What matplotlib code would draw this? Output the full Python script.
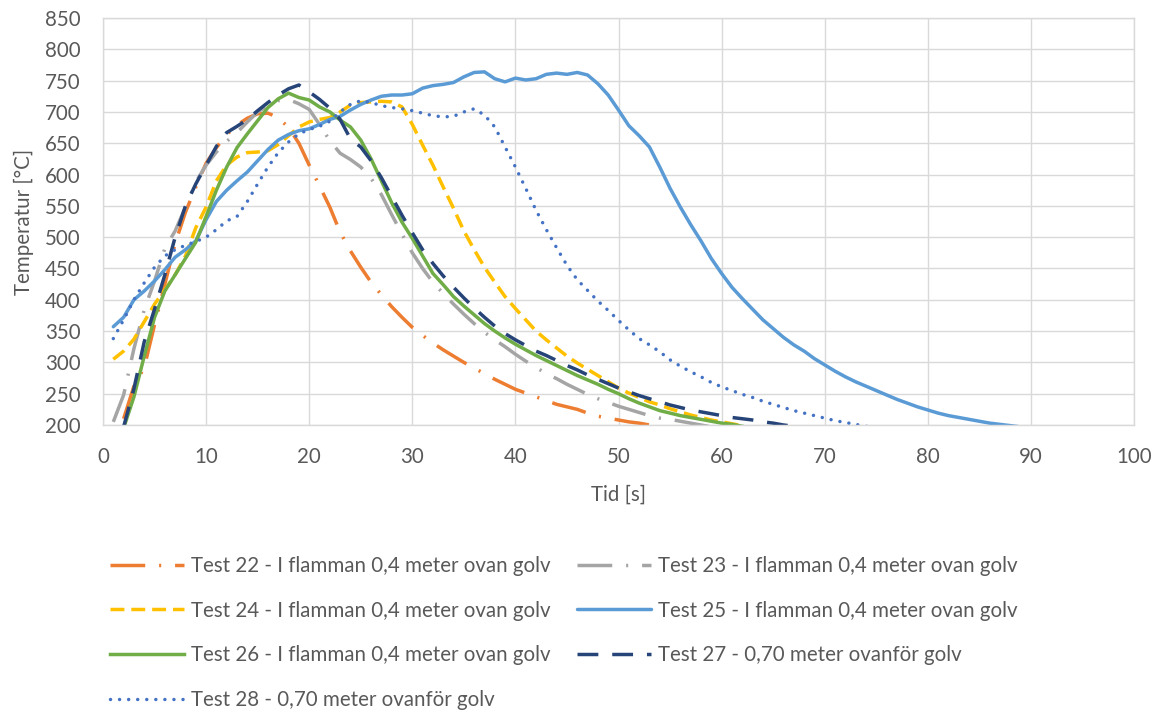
import matplotlib
matplotlib.use("Agg")
import matplotlib.pyplot as plt

plt.rcParams['font.family'] = ['Lato', 'DejaVu Sans']

# Tid [s]
x22 = list(range(2, 56))
t22 = [210, 262, 292, 360, 425, 490, 540, 580, 618, 643, 664, 679, 690, 697, 698, 691, 675, 650,
       615, 582, 548, 508, 478, 452, 428, 408, 389, 372, 356, 343, 331, 320, 310, 300, 291, 282,
       273, 265, 257, 251, 245, 239, 233, 229, 225, 219, 214, 211, 208, 205, 203, 200, 198, 195]

x23 = list(range(1, 60))
t23 = [205, 248, 322, 384, 430, 482, 510, 548, 588, 615, 636, 653, 667, 684, 700, 710, 718, 720,
       713, 704, 680, 654, 634, 624, 612, 594, 568, 536, 505, 475, 450, 428, 410, 393, 377, 362,
       348, 336, 325, 313, 302, 292, 282, 274, 265, 257, 249, 242, 236, 230, 225, 220, 215, 211,
       209, 206, 203, 200, 197]

x24 = list(range(1, 63))
t24 = [305, 318, 337, 365, 393, 416, 440, 470, 515, 548, 590, 615, 628, 635, 636, 638, 648, 662,
       676, 684, 688, 691, 700, 711, 715, 716, 717, 716, 708, 680, 647, 615, 580, 546, 510, 480,
       452, 428, 405, 386, 368, 350, 336, 323, 310, 299, 289, 279, 269, 259, 251, 244, 237, 232,
       226, 221, 216, 212, 208, 205, 202, 199]

x25 = list(range(1, 90))
t25 = [357, 372, 400, 414, 430, 448, 468, 480, 494, 528, 557, 575, 590, 604, 622, 640, 655, 664,
       670, 673, 680, 688, 693, 703, 712, 719, 725, 727, 727, 729, 738, 742, 744, 747, 756, 763,
       764, 753, 748, 754, 751, 753, 760, 762, 760, 763, 759, 745, 727, 703, 678, 662, 644, 612,
       578, 548, 520, 494, 466, 442, 420, 402, 385, 368, 354, 340, 328, 318, 306, 296, 286, 277,
       269, 262, 255, 248, 241, 235, 229, 224, 219, 215, 212, 209, 206, 203, 201, 199, 197]

x26 = list(range(2, 63))
t26 = [195, 245, 310, 372, 414, 440, 466, 492, 533, 575, 612, 643, 665, 686, 707, 721, 730, 723,
       719, 708, 700, 687, 676, 655, 625, 590, 555, 524, 498, 470, 442, 424, 405, 390, 376, 362,
       350, 339, 329, 320, 311, 303, 295, 287, 279, 272, 265, 257, 250, 242, 235, 229, 223, 219,
       215, 212, 209, 206, 203, 201, 198]

x27 = list(range(2, 68))
t27 = [197, 258, 333, 385, 440, 500, 550, 585, 615, 645, 667, 677, 688, 702, 715, 727, 737, 743,
       732, 720, 706, 688, 657, 644, 622, 595, 565, 535, 507, 480, 458, 438, 420, 403, 387, 372,
       358, 346, 336, 327, 318, 311, 303, 295, 288, 280, 273, 266, 259, 253, 247, 242, 237, 232,
       228, 224, 221, 218, 215, 212, 210, 208, 205, 203, 200, 198]

x28 = list(range(1, 76))
t28 = [338, 368, 400, 427, 452, 470, 480, 487, 493, 500, 512, 526, 533, 557, 585, 612, 635, 652,
       665, 672, 677, 685, 700, 712, 718, 715, 710, 707, 705, 702, 698, 694, 692, 693, 700, 705,
       695, 676, 644, 612, 578, 543, 512, 483, 455, 432, 415, 398, 383, 367, 352, 338, 328, 317,
       304, 294, 285, 277, 268, 261, 255, 249, 244, 238, 233, 228, 223, 219, 215, 211, 207, 204,
       201, 198, 196]

labels = [
    'Test 22 - I flamman 0,4 meter ovan golv',
    'Test 23 - I flamman 0,4 meter ovan golv',
    'Test 24 - I flamman 0,4 meter ovan golv',
    'Test 25 - I flamman 0,4 meter ovan golv',
    'Test 26 - I flamman 0,4 meter ovan golv',
    'Test 27 - 0,70 meter ovanför golv',
    'Test 28 - 0,70 meter ovanför golv',
]

fig = plt.figure(figsize=(11.61, 7.16), dpi=100)
ax = fig.add_axes([103 / 1161, 1 - 425 / 716, 1031 / 1161, 407 / 716])

lw = 2.5
dashdot = (0, (10, 4, 0.6, 4))
h22, = ax.plot(x22, t22, color='#ED7D31', lw=lw, linestyle=dashdot)
h23, = ax.plot(x23, t23, color='#A5A5A5', lw=lw, linestyle=dashdot)
h24, = ax.plot(x24, t24, color='#FFC000', lw=lw, linestyle=(0, (4, 2)))
h25, = ax.plot(x25, t25, color='#5B9BD5', lw=lw, solid_capstyle='round')
h26, = ax.plot(x26, t26, color='#70AD47', lw=lw)
h27, = ax.plot(x27, t27, color='#264478', lw=lw, linestyle=(0, (6, 4)))
h28, = ax.plot(x28, t28, color='#4472C4', lw=lw, linestyle=(0, (0.01, 2.6)),
               dash_capstyle='round')

ax.set_xlim(0, 100)
ax.set_ylim(200, 850)
ax.set_xticks(range(0, 101, 10))
ax.set_yticks(range(200, 851, 50))
ax.grid(True, color='#d9d9d9', lw=1)
ax.set_axisbelow(True)
for s in ax.spines.values():
    s.set_color('#d9d9d9')
    s.set_linewidth(1)
ax.tick_params(length=0, pad=16, labelsize=14.8, labelcolor='#595959')

ax.set_xlabel('Tid [s]', fontsize=14.8, color='#595959')
ax.set_ylabel('Temperatur [°C]', fontsize=14.8, color='#595959')
ax.xaxis.set_label_coords(0.5, -0.147)
ax.yaxis.set_label_coords(-0.067, 0.5)

handles = [h22, h24, h26, h28, h23, h25, h27]
order = [0, 2, 4, 6, 1, 3, 5]
leg = fig.legend(handles, [labels[i] for i in order], ncol=2, loc='upper left',
                 bbox_to_anchor=(110 / 1161, 1 - 556 / 716), frameon=False,
                 fontsize=14.8, handlelength=3.6, handletextpad=0.35,
                 columnspacing=1.25, labelspacing=1.2, borderpad=0, borderaxespad=0)
for t in leg.get_texts():
    t.set_color('#595959')

fig.savefig('out.png', dpi=100)
